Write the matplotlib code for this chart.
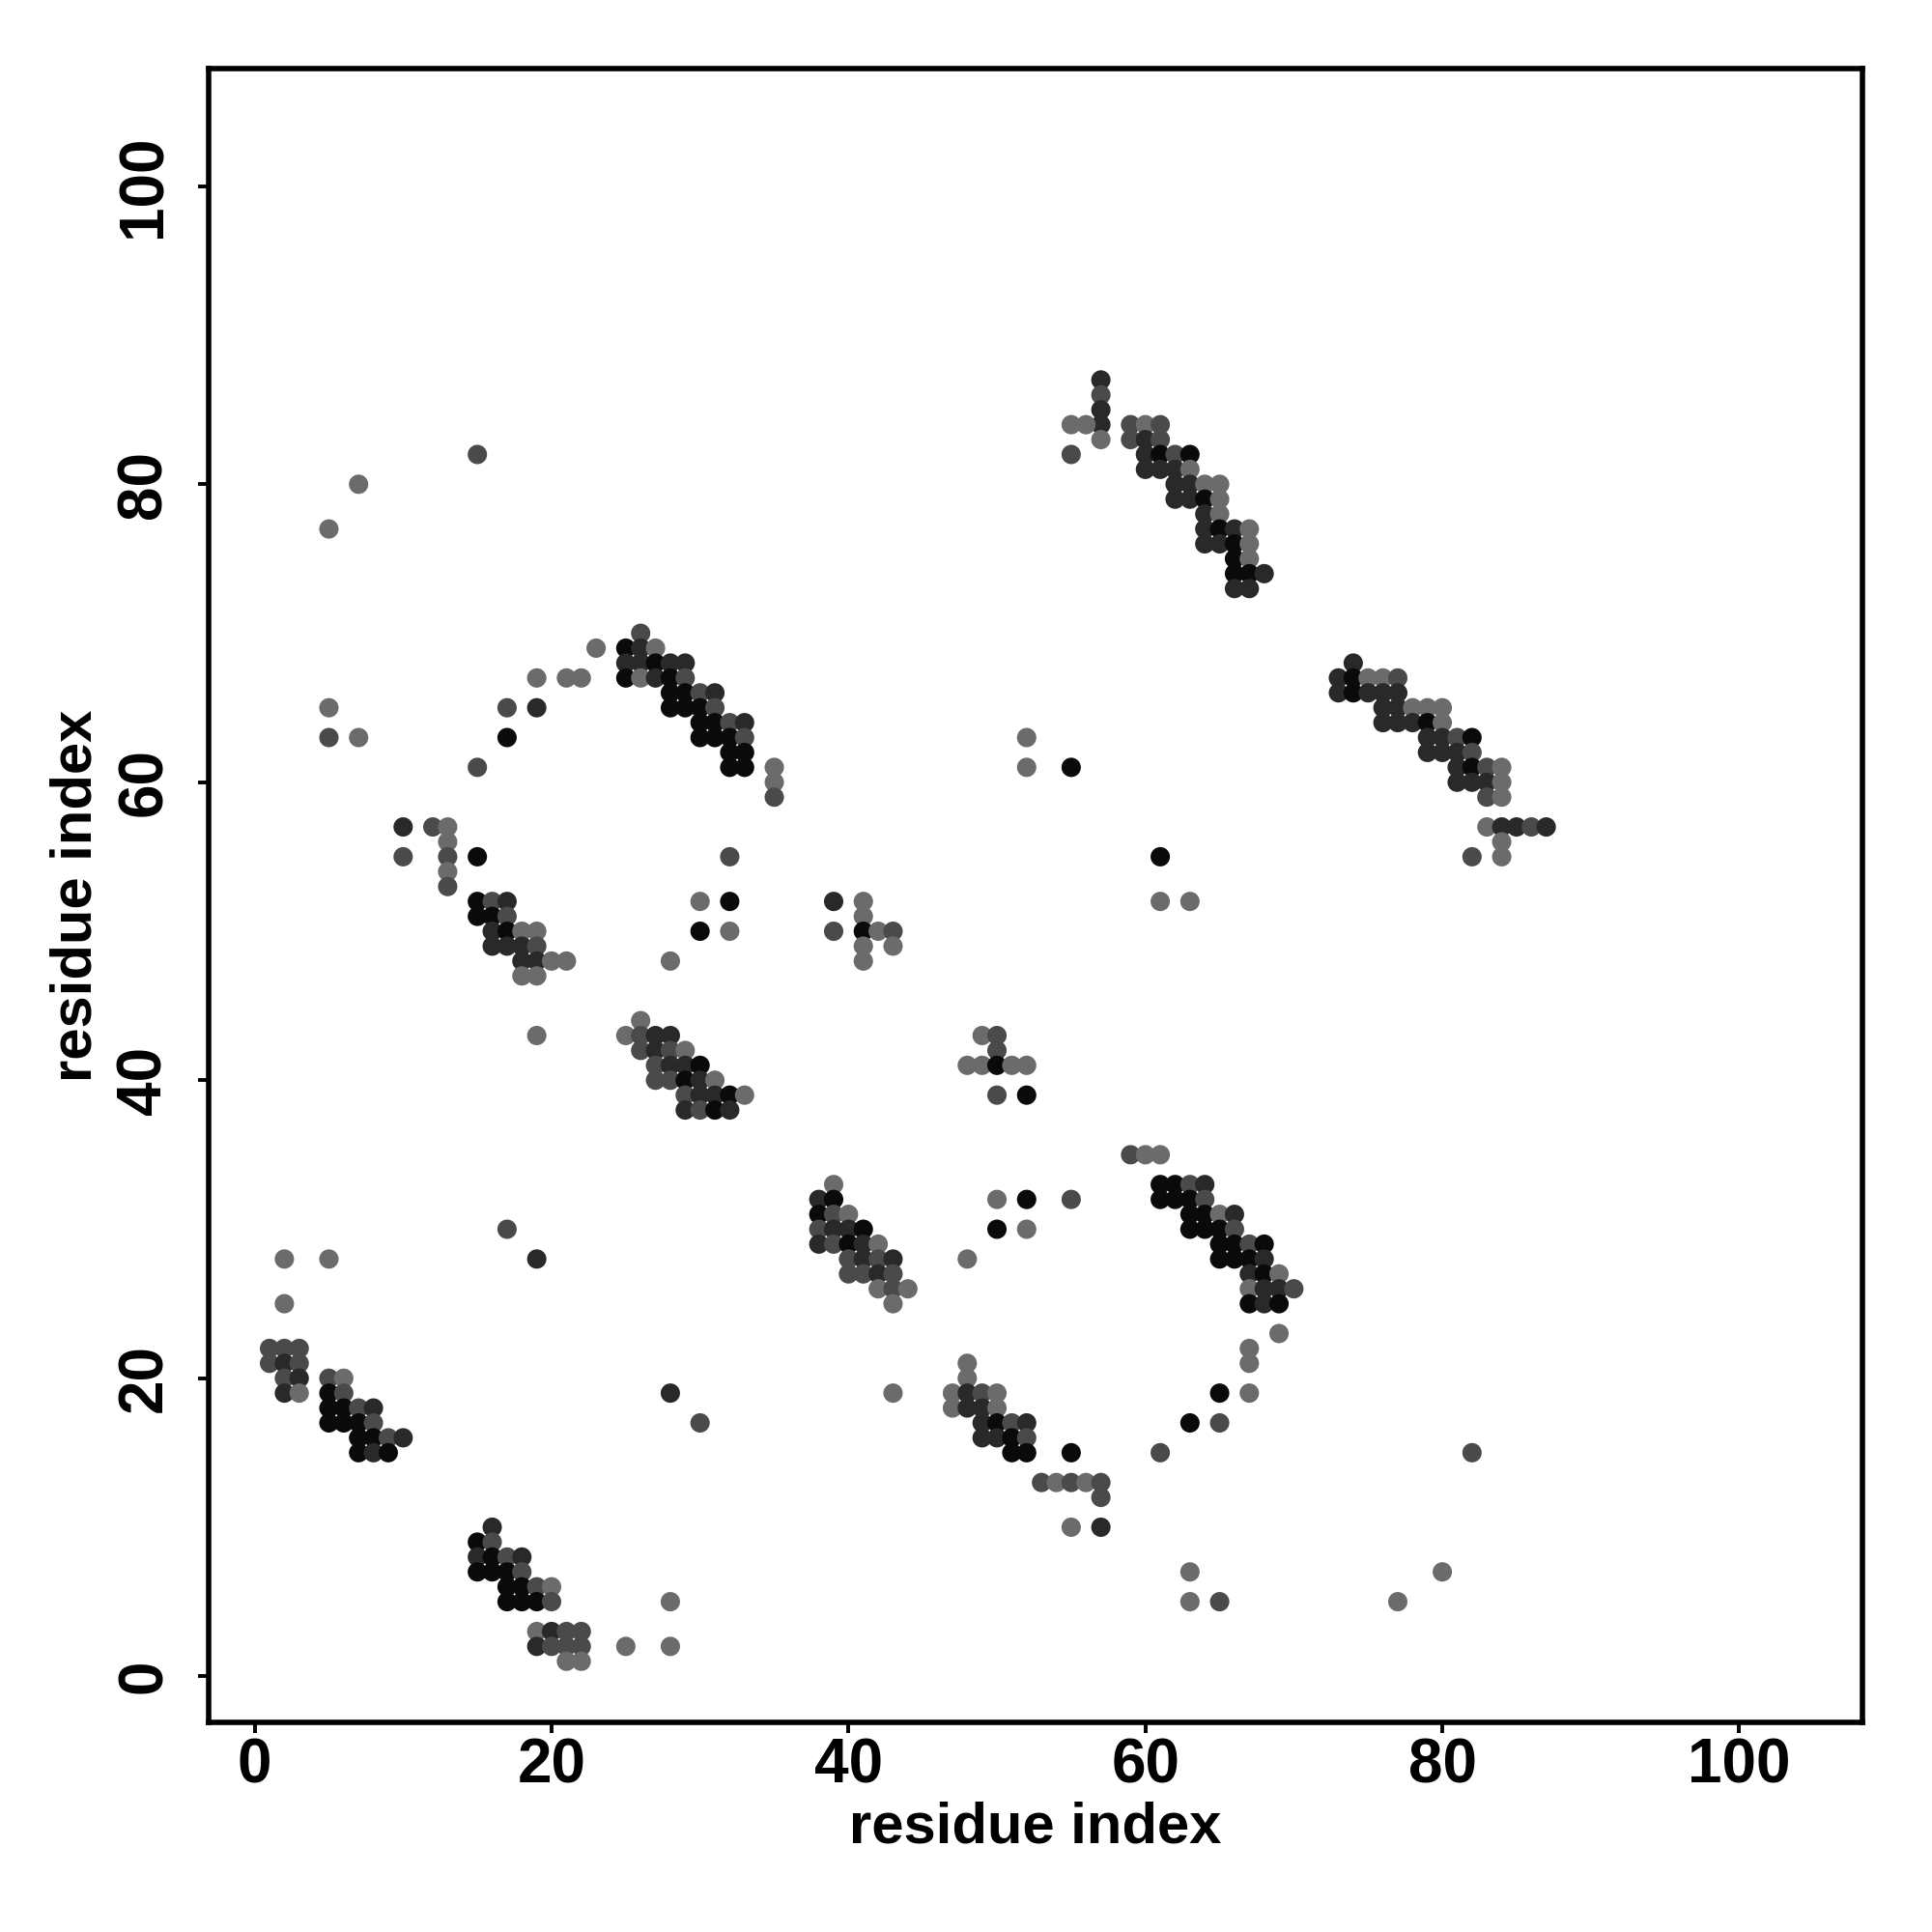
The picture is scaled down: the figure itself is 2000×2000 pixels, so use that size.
import matplotlib
matplotlib.use("Agg")
import matplotlib.pyplot as plt
from matplotlib import font_manager

# contact map between residues, darker dot = stronger contact
# shade level: 0 = black, 1 = dark, 2 = dark grey, 3 = grey

res_x = [
    17, 2, 5, 19, 2, 1, 2, 3, 1, 2, 3, 2, 3, 5, 6, 2, 3, 5, 6, 5, 6, 7, 8, 5, 6, 7, 8, 7, 8, 9, 10, 7, 8, 9,
    16, 15, 16, 15, 16, 17, 18, 15, 16, 17, 18, 17, 18, 19, 20, 17, 18, 19, 20, 28, 19, 20, 21, 22, 19, 20, 21, 22, 25, 28, 21, 22,
    39, 38, 39, 38, 39, 40, 38, 39, 40, 41, 38, 39, 40, 41, 42, 40, 41, 42, 43, 40, 41, 42, 43, 42, 43, 44, 43, 28, 30, 43,
    59, 60, 61, 61, 62, 63, 64, 61, 62, 63, 64, 63, 64, 65, 66, 63, 64, 65, 66, 65, 66, 67, 68, 65, 66, 67, 68, 67, 68, 69, 67, 68, 69, 70, 67, 68, 69,
    50, 52, 55, 50, 52, 48, 69, 67, 67, 65, 67, 63, 65, 61, 82, 63, 80, 63, 65, 77,
    48, 48, 47, 48, 49, 50, 47, 48, 49, 50, 49, 50, 51, 52, 49, 50, 51, 52, 51, 52, 55, 53, 54, 55, 56, 57, 57, 55, 57,
    23, 19, 21, 22, 5, 17, 19, 5, 7, 17, 15, 10, 12, 13, 13, 10, 13, 15, 13, 13, 15, 16, 17, 15, 16, 17, 16, 17, 18, 19, 16, 17, 18, 19, 18, 19, 20, 21, 18, 19, 19,
    26, 25, 26, 27, 25, 26, 27, 28, 29, 25, 26, 27, 28, 29, 28, 29, 30, 31, 28, 29, 30, 31, 30, 31, 32, 33, 30, 31, 32, 33, 32, 33, 32, 33, 35, 35, 35,
    32, 30, 32, 30, 32, 28, 39, 41, 41, 39, 41, 42, 43, 41, 43, 41,
    26, 25, 26, 27, 28, 26, 27, 28, 29, 27, 28, 29, 30, 27, 28, 29, 30, 31, 29, 30, 31, 32, 33, 29, 30, 31, 32,
    52, 52, 55, 61, 61, 63, 49, 50, 50, 48, 49, 50, 51, 52, 50, 52,
    74, 73, 74, 75, 76, 77, 73, 74, 75, 76, 77, 76, 77, 78, 79, 80, 76, 77, 78, 79, 80, 79, 80, 81, 82, 79, 80, 81, 82, 81, 82, 83, 84, 81, 82, 83, 84, 83, 84, 83, 84, 85, 86, 87, 84, 82, 84,
    57, 57, 57, 57, 57, 55, 56, 55, 59, 60, 61, 59, 60, 61, 60, 61, 62, 63, 60, 61, 62, 63, 62, 63, 64, 65, 62, 63, 64, 65, 64, 65, 64, 65, 66, 67, 64, 65, 66, 67, 66, 67, 66, 67, 68, 66, 67,
    15, 7, 5,
]

res_y = [
    30, 28, 28, 28, 25, 22, 22, 22, 21, 21, 21, 20, 20, 20, 20, 19, 19, 19, 19, 18, 18, 18, 18, 17, 17, 17, 17, 16, 16, 16, 16, 15, 15, 15,
    10, 9, 9, 8, 8, 8, 8, 7, 7, 7, 7, 6, 6, 6, 6, 5, 5, 5, 5, 5, 3, 3, 3, 3, 2, 2, 2, 2, 2, 2, 1, 1,
    33, 32, 32, 31, 31, 31, 30, 30, 30, 30, 29, 29, 29, 29, 29, 28, 28, 28, 28, 27, 27, 27, 27, 26, 26, 26, 25, 19, 17, 19,
    35, 35, 35, 33, 33, 33, 33, 32, 32, 32, 32, 31, 31, 31, 31, 30, 30, 30, 30, 29, 29, 29, 29, 28, 28, 28, 28, 27, 27, 27, 26, 26, 26, 26, 25, 25, 25,
    32, 32, 32, 30, 30, 28, 23, 22, 21, 19, 19, 17, 17, 15, 15, 7, 7, 5, 5, 5,
    21, 20, 19, 19, 19, 19, 18, 18, 18, 18, 17, 17, 17, 17, 16, 16, 16, 16, 15, 15, 15, 13, 13, 13, 13, 13, 12, 10, 10,
    69, 67, 67, 67, 65, 65, 65, 63, 63, 63, 61, 57, 57, 57, 56, 55, 55, 55, 54, 53, 52, 52, 52, 51, 51, 51, 50, 50, 50, 50, 49, 49, 49, 49, 48, 48, 48, 48, 47, 47, 43,
    70, 69, 69, 69, 68, 68, 68, 68, 68, 67, 67, 67, 67, 67, 66, 66, 66, 66, 65, 65, 65, 65, 64, 64, 64, 64, 63, 63, 63, 63, 62, 62, 61, 61, 61, 60, 59,
    55, 52, 52, 50, 50, 48, 52, 52, 51, 50, 50, 50, 50, 49, 49, 48,
    44, 43, 43, 43, 43, 42, 42, 42, 42, 41, 41, 41, 41, 40, 40, 40, 40, 40, 39, 39, 39, 39, 39, 38, 38, 38, 38,
    63, 61, 61, 55, 52, 52, 43, 43, 42, 41, 41, 41, 41, 41, 39, 39,
    68, 67, 67, 67, 67, 67, 66, 66, 66, 66, 66, 65, 65, 65, 65, 65, 64, 64, 64, 64, 64, 63, 63, 63, 63, 62, 62, 62, 62, 61, 61, 61, 61, 60, 60, 60, 60, 59, 59, 57, 57, 57, 57, 57, 56, 55, 55,
    87, 86, 85, 84, 83, 84, 84, 82, 84, 84, 84, 83, 83, 83, 82, 82, 82, 82, 81, 81, 81, 81, 80, 80, 80, 80, 79, 79, 79, 79, 78, 78, 77, 77, 77, 77, 76, 76, 76, 76, 75, 75, 74, 74, 74, 73, 73,
    82, 80, 77,
]

shade = [
    2, 3, 3, 1, 3, 2, 2, 2, 2, 1, 2, 2, 1, 2, 3, 1, 3, 0, 2, 0, 0, 2, 1, 0, 0, 0, 2, 0, 0, 2, 1, 0, 1, 0,
    1, 0, 2, 1, 0, 2, 1, 0, 0, 0, 2, 0, 0, 2, 3, 0, 0, 0, 2, 3, 3, 1, 2, 2, 1, 2, 2, 2, 3, 3, 3, 3,
    3, 1, 0, 0, 2, 3, 2, 1, 1, 0, 1, 2, 0, 1, 3, 2, 1, 2, 1, 2, 2, 1, 2, 3, 2, 3, 3, 1, 2, 3,
    2, 3, 3, 0, 0, 2, 1, 0, 0, 0, 2, 0, 0, 3, 1, 0, 0, 0, 2, 0, 0, 2, 0, 0, 0, 0, 1, 1, 0, 3, 3, 1, 1, 2, 0, 1, 0,
    3, 0, 2, 0, 3, 3, 3, 3, 3, 0, 3, 0, 2, 2, 2, 3, 3, 3, 2, 3,
    3, 3, 3, 1, 2, 3, 3, 1, 1, 3, 1, 0, 2, 1, 1, 1, 0, 2, 0, 0, 0, 2, 3, 2, 3, 2, 2, 3, 1,
    3, 3, 3, 3, 3, 2, 1, 2, 3, 0, 2, 1, 2, 3, 3, 2, 2, 0, 3, 2, 0, 2, 1, 0, 0, 2, 1, 0, 3, 3, 1, 1, 1, 2, 1, 1, 3, 3, 3, 3, 3,
    2, 0, 1, 3, 1, 1, 0, 1, 1, 0, 3, 1, 0, 2, 0, 0, 2, 1, 0, 0, 0, 2, 0, 0, 2, 1, 0, 0, 0, 2, 0, 0, 0, 0, 3, 3, 2,
    2, 3, 0, 0, 3, 3, 1, 3, 3, 2, 0, 3, 2, 3, 3, 3,
    3, 3, 2, 1, 1, 2, 1, 2, 3, 2, 1, 1, 0, 2, 2, 0, 1, 3, 2, 1, 1, 0, 3, 1, 2, 0, 1,
    3, 3, 0, 0, 3, 3, 3, 2, 2, 3, 3, 0, 3, 3, 2, 0,
    1, 1, 0, 3, 3, 2, 1, 0, 1, 1, 1, 1, 1, 3, 3, 3, 1, 1, 1, 0, 3, 1, 1, 2, 0, 1, 1, 1, 2, 1, 0, 2, 3, 1, 1, 1, 3, 2, 3, 3, 1, 1, 2, 1, 3, 2, 3,
    1, 2, 1, 1, 3, 3, 3, 2, 2, 3, 2, 2, 1, 2, 1, 0, 2, 0, 1, 1, 1, 3, 1, 1, 3, 3, 1, 1, 0, 3, 1, 3, 1, 0, 1, 3, 1, 1, 0, 3, 0, 3, 0, 0, 1, 1, 1,
    2, 3, 3,
]

grey_levels = [0.04, 0.16, 0.29, 0.42]
ticks = [0, 20, 40, 60, 80, 100]

assert len(res_x) == len(res_y) == len(shade), (len(res_x), len(res_y), len(shade))

names = {f.name for f in font_manager.fontManager.ttflist}
family = "Liberation Sans Narrow" if "Liberation Sans Narrow" in names else "Liberation Sans"
plt.rcParams["font.family"] = [family, "DejaVu Sans"]
plt.rcParams["font.weight"] = "bold"

fig = plt.figure(figsize=(10, 10), dpi=200)
ax = fig.add_axes([0.108, 0.1085, 0.856, 0.856])

colors = [str(grey_levels[s]) for s in shade]
ax.scatter(res_x, res_y, s=52, c=colors, linewidths=0)

ax.set_xlim(-3.1, 108.3)
ax.set_ylim(-3.1, 107.9)
ax.set_xticks(ticks)
ax.set_yticks(ticks)
ax.tick_params(length=4, width=1.4, labelsize=23, color="black")
ax.tick_params(axis="x", pad=1.5)
ax.tick_params(axis="y", pad=9)
for lab in ax.get_yticklabels():
    lab.set_rotation(90)
    lab.set_va("center")
for lab in ax.get_xticklabels() + ax.get_yticklabels():
    lab.set_fontweight("bold")
for sp in ax.spines.values():
    sp.set_linewidth(2.0)

ax.set_xlabel("residue index", fontsize=21.5, fontweight="bold")
ax.set_ylabel("residue index", fontsize=21.5, fontweight="bold")
ax.xaxis.set_label_coords(0.5, -0.0637)
ax.xaxis.label.set_va("center")
ax.yaxis.set_label_coords(-0.080, 0.5)
ax.yaxis.label.set_va("center")

fig.savefig("out.png", dpi=200, facecolor="white")
